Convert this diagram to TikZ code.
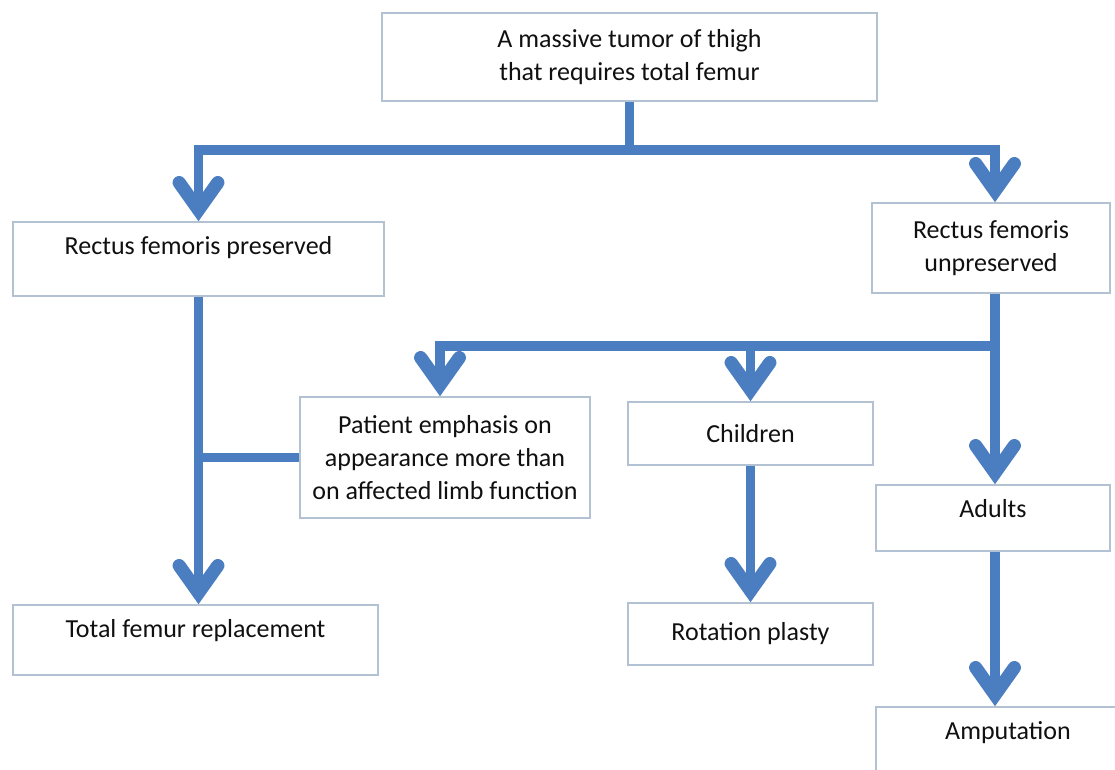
\documentclass[tikz,border=0pt]{standalone}
\usepackage{fontspec}
\setmainfont{Carlito}
\usepackage{tikz}
\usetikzlibrary{positioning, arrows.meta, calc}
\usepackage{xcolor}
\definecolor{flowblue}{HTML}{4A7EC0}
\definecolor{boxline}{HTML}{B3C2D2}
\definecolor{txtblack}{HTML}{101010}

\begin{document}
\begin{tikzpicture}[x=0.02cm, y=-0.02cm,
    font=\fontsize{14.8}{18.7}\selectfont,
    box/.style={draw=boxline, line width=0.9pt, fill=white, text=txtblack,
      align=center, inner sep=2pt},
    flow/.style={flowblue, line width=5.4pt},
    flowarr/.style={flow, -{Straight Barb[length=15.5pt, width=22pt, line width'=7.5pt, line cap=round]}}]
    \clip (0,0) rectangle (1115,770);
    \fill[white] (0,0) rectangle (1115,770);
    % boxes
    \node[box, minimum width=9.9cm, minimum height=1.76cm] (tumor) at (629.5,57)
      {A massive tumor of thigh\\that requires total femur};
    \node[box, minimum width=7.42cm, minimum height=1.48cm, text depth=15pt] (pres) at (198.5,259)
      {Rectus femoris preserved};
    \node[box, minimum width=4.76cm, minimum height=1.8cm] (unpres) at (991,248)
      {Rectus femoris\\unpreserved};
    \node[box, minimum width=5.8cm, minimum height=2.42cm] (emph) at (445,457.5)
      {Patient emphasis on\\appearance more than\\on affected limb function};
    \node[box, minimum width=4.9cm, minimum height=1.26cm] (child) at (750.5,433.5)
      {Children};
    \node[box, minimum width=4.68cm, minimum height=1.32cm, text depth=11pt] (adult) at (993,518)
      {Adults};
    \node[box, minimum width=7.3cm, minimum height=1.4cm, text depth=13.5pt] (tfr) at (195.5,640)
      {Total femur replacement};
    \node[box, minimum width=4.9cm, minimum height=1.24cm] (rot) at (750.5,634)
      {Rotation plasty};
    \node[box, minimum width=5.28cm, minimum height=1.66cm, text depth=21pt] (amp) at (1008,748.5)
      {Amputation};
    % connectors
    \draw[flow] (tumor.south) -- (tumor.south |- 0,150) coordinate (split);
    \draw[flowarr] (split) -| (pres.north);
    \draw[flowarr] (split) -| ($(unpres.north)+(4,0)$);
    \draw[flowarr] (pres.south) -- (pres.south |- tfr.north);
    \draw[flow] (emph.west) -- (emph.west -| pres.south);
    \draw[flow] ($(unpres.south)+(4,0)$) -- ++(0,52) coordinate (fork);
    \draw[flowarr] (fork) -| ($(emph.north)+(-5,0)$);
    \draw[flowarr] (fork -| child.north) -- (child.north);
    \draw[flowarr] (fork) -- (fork |- adult.north);
    \draw[flowarr] (child.south) -- (rot.north);
    \draw[flowarr] (fork |- adult.south) -- (fork |- amp.north);
\end{tikzpicture}
\end{document}
